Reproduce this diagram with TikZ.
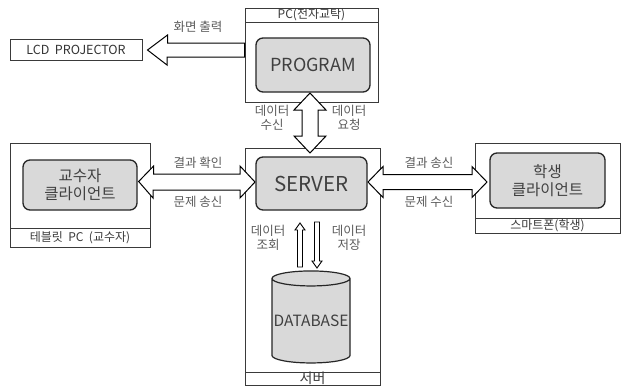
\documentclass[tikz,border=0pt]{standalone}
\usepackage{fontspec}
\setmainfont{Noto Sans CJK KR}
\usetikzlibrary{shapes.geometric,calc}
\definecolor{boxline}{HTML}{3A3A3A}
\definecolor{innerfill}{HTML}{D9D9D9}
\definecolor{lbl}{HTML}{5A5A5A}
\begin{document}
\begin{tikzpicture}[x=1pt,y=-1pt,
  outer/.style={draw=boxline,line width=1pt,fill=white},
  bar/.style={draw=boxline,line width=1pt,fill=white,inner sep=0pt,font=\fontsize{12}{13}\selectfont,text=boxline},
  inner/.style={draw=black!85,line width=1.3pt,fill=innerfill,rounded corners=7pt,inner sep=0pt,align=center,text=black!75},
  arr/.style={draw=black,line width=1pt,fill=white,line join=miter},
  tarr/.style={draw=black,line width=0.9pt,fill=white,line join=miter},
  lab/.style={text=lbl,font=\fontsize{12.5}{14}\selectfont,align=center,inner sep=0pt}
]
\useasboundingbox (0,0) rectangle (622,389);

% LCD projector
\node[outer,minimum width=132pt,minimum height=21pt,inner sep=0pt,text=black!80,font=\fontsize{12.5}{13}\selectfont] (proj) at (76,49.5) {LCD\ \ PROJECTOR};

% PC
\node[outer,minimum width=133pt,minimum height=94pt] (pc) at (311.5,55) {};
\node[bar,minimum width=133pt,minimum height=14pt] (pcbar) at (311.5,15) {PC(전자교탁)};
\node[inner,minimum width=114pt,minimum height=54pt,font=\fontsize{18}{20}\selectfont] (prog) at (313,65) {PROGRAM};

% Tablet
\node[outer,minimum width=140pt,minimum height=104pt] (tab) at (80,195) {};
\node[bar,minimum width=140pt,minimum height=19pt] (tabbar) at (80,237.5) {테블릿\ \ PC\ \ (교수자)};
\node[inner,minimum width=114pt,minimum height=50pt,font=\fontsize{15.5}{18}\selectfont] (tabin) at (80,185) {교수자\\클라이언트};

% Server
\node[outer,minimum width=135pt,minimum height=237pt] (srv) at (312.5,266.5) {};
\node[bar,minimum width=135pt,minimum height=13pt,font=\fontsize{14}{14}\selectfont] (srvbar) at (312.5,378.5) {서버};
\node[inner,minimum width=111pt,minimum height=53pt,font=\fontsize{20.5}{22}\selectfont] (srvin) at (311.5,183.5) {SERVER};

% Smartphone
\node[outer,minimum width=145pt,minimum height=90pt] (ph) at (547.5,188) {};
\node[bar,minimum width=145pt,minimum height=15pt] (phbar) at (547.5,225.5) {스마트폰(학생)};
\node[inner,minimum width=115pt,minimum height=55pt,font=\fontsize{15.5}{18}\selectfont] (phin) at (547.5,180.5) {학생\\클라이언트};

% Database cylinder
\node[cylinder,shape border rotate=90,aspect=0.2,draw=black!85,line width=1.2pt,fill=innerfill,
  minimum width=78pt,minimum height=92pt,inner sep=0pt,text=black!75,font=\fontsize{15.5}{16}\selectfont] (db) at (311,321) {DATABASE};

% Arrow: PC -> projector
\draw[arr] (proj.east) ++(5,0.5) coordinate (pt) -- ++(20,-15) -- ++(0,8) -- (pc.west |- 0,43) -- (pc.west |- 0,57) -- (167,57) -- ++(0,8) -- cycle;
\node[lab] at (198,27) {화면 출력};

% Vertical double arrow PC <-> Server
\draw[arr] (310,93) coordinate (vt) -- ++(16,17) -- ++(-8,0) -- (318,136) -- ++(8,0) -- (310,153) coordinate (vb) -- ++(-16,-17) -- ++(8,0) -- (302,110) -- ++(-8,0) -- cycle;
\node[lab] at (272,118) {데이터\\수신};
\node[lab] at (349,118) {데이터\\요청};

% Horizontal double arrow tablet <-> server
\draw[arr] (tabin.east) ++(1,-3.5) coordinate (la) -- ++(15,-15.5) -- ++(0,8) -- (240,174) -- ++(0,-8) -- (255,182) -- (240,198) -- ++(0,-8) -- (153,190) -- ++(0,8) -- cycle;
\node[lab] at (198,163) {결과 확인};
\node[lab] at (198,202) {문제 송신};

% Horizontal double arrow server <-> phone
\draw[arr] (368,182) -- ++(15,-15.5) -- ++(0,8) -- (472,174.5) -- ++(0,-8) -- (487,182) -- (472,197.5) -- ++(0,-8) -- (383,189.5) -- ++(0,8) -- cycle;
\node[lab] at (429,163) {결과 송신};
\node[lab] at (429,202) {문제 수신};

% Thin arrows server <-> database
\draw[tarr] (300,223) -- (305,230) -- (302.5,230) -- (302.5,267) -- (297.5,267) -- (297.5,230) -- (295,230) -- cycle;
\draw[tarr] (317,268) -- (322,261) -- (319.5,261) -- (319.5,222) -- (314.5,222) -- (314.5,261) -- (312,261) -- cycle;
\node[lab] at (268,238) {데이터\\조회};
\node[lab] at (349,238) {데이터\\저장};
\end{tikzpicture}
\end{document}
